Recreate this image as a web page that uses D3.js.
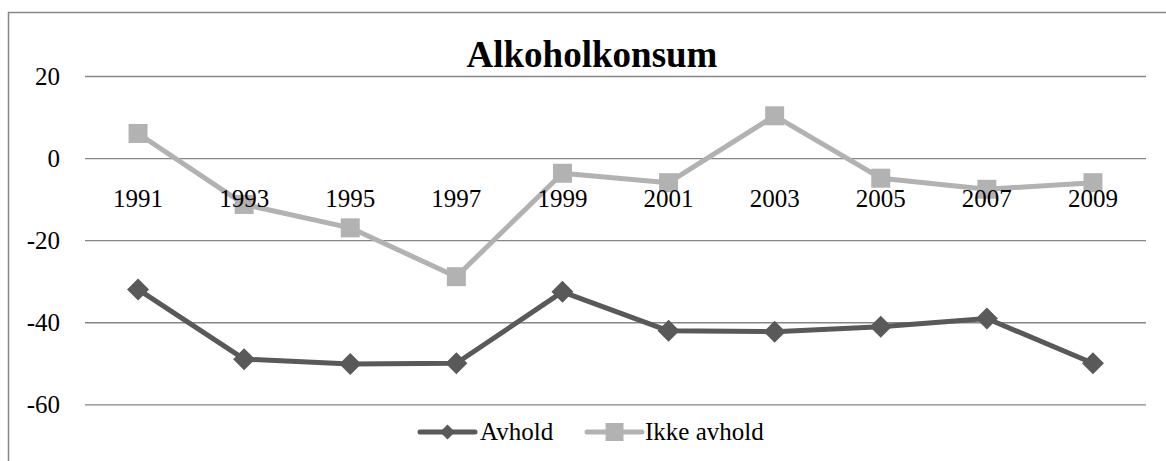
<!DOCTYPE html>
<html>
<head>
<meta charset="utf-8">
<script src="https://cdn.jsdelivr.net/npm/d3@7"></script>
<style>
  body { margin: 0; background: #fff; }
  svg { display: block; font-family: "Liberation Serif", "Times New Roman", serif; }
</style>
</head>
<body>
<svg width="1166" height="461"></svg>
<script>
// data
const years = ["1991", "1993", "1995", "1997", "1999", "2001", "2003", "2005", "2007", "2009"];
const avhold = [-32.0, -49.0, -50.2, -50.0, -32.6, -42.1, -42.3, -41.1, -39.1, -50.0];
const ikkeAvhold = [6.0, -11.3, -17.0, -28.9, -3.7, -6.0, 10.3, -4.9, -7.6, -6.0];
const yTicks = [20, 0, -20, -40, -60];

const series = [
  {name: "Avhold", values: avhold, color: "#595959", shape: "diamond"},
  {name: "Ikke avhold", values: ikkeAvhold, color: "#b2b2b2", shape: "square"}
];

var svg = d3.select("svg"),
    margin = {top: 76, right: 20, bottom: 57, left: 85},
    width = 1146 - margin.left,
    height = 404.3 - margin.top;

// chart border (runs off the right and bottom edge like the original)
svg.append("rect")
    .attr("x", 8.5).attr("y", 12.5)
    .attr("width", 1170).attr("height", 470)
    .attr("fill", "none")
    .attr("stroke", "#868686")
    .attr("stroke-width", 1.5);

var g = svg.append("g").attr("transform", "translate(" + margin.left + "," + margin.top + ")");

var x = d3.scaleBand().domain(years).range([0, width]);
var y = d3.scaleLinear().domain([-60, 20]).range([height, 0]);

// gridlines + y labels (plain hyphen minus like the original)
g.append("g")
    .call(d3.axisLeft(y).tickValues(yTicks).tickSize(-width).tickPadding(25).tickFormat(d => String(d)))
    .call(a => a.select(".domain").remove())
    .call(a => a.selectAll("line").attr("stroke", "#868686").attr("stroke-width", 1.3))
    .call(a => a.selectAll("text")
        .attr("fill", "#000")
        .style("font-size", "25px")
        .style("font-family", "'Liberation Serif', 'Times New Roman', serif"));

// title
svg.append("text")
    .attr("x", 592)
    .attr("y", 67)
    .attr("text-anchor", "middle")
    .style("font-size", "37px")
    .style("font-weight", "bold")
    .text("Alkoholkonsum");

var line = d3.line()
    .x((d, i) => x(years[i]) + x.bandwidth() / 2)
    .y(d => y(d));

function marker(sel, shape, size) {
  if (shape === "diamond") {
    sel.attr("d", d3.symbol(d3.symbolSquare, size * size / 2)())
       .attr("transform", function() { return d3.select(this).attr("transform") + " rotate(45)"; });
  } else {
    sel.attr("d", d3.symbol(d3.symbolSquare, size * size)());
  }
}

series.forEach(function(s) {
  g.append("path")
      .datum(s.values)
      .attr("fill", "none")
      .attr("stroke", s.color)
      .attr("stroke-width", 5)
      .attr("stroke-linejoin", "round")
      .attr("d", line);

  g.selectAll(".m-" + s.shape)
    .data(s.values)
    .enter().append("path")
      .attr("class", "m-" + s.shape)
      .attr("fill", s.color)
      .attr("transform", (d, i) => "translate(" + (x(years[i]) + x.bandwidth() / 2) + "," + y(d) + ")")
      .call(marker, s.shape, s.shape === "diamond" ? 22 : 19);
});

// category labels hang below the zero line, drawn over the lines
g.append("g")
    .attr("transform", "translate(0," + y(0) + ")")
    .call(d3.axisBottom(x).tickSize(0).tickPadding(31))
    .call(a => a.select(".domain").remove())
    .call(a => a.selectAll("text")
        .attr("fill", "#000")
        .style("font-size", "25px")
        .style("font-family", "'Liberation Serif', 'Times New Roman', serif"));

// legend
var legendItems = [
  {x0: 420, x1: 475, tx: 480},
  {x0: 587, x1: 642, tx: 645}
];
var legend = svg.append("g");
series.forEach(function(s, i) {
  var it = legendItems[i];
  var lg = legend.append("g");
  lg.append("line")
      .attr("x1", it.x0).attr("x2", it.x1)
      .attr("y1", 432).attr("y2", 432)
      .attr("stroke", s.color)
      .attr("stroke-width", 5)
      .attr("stroke-linecap", "round");
  lg.append("path")
      .attr("fill", s.color)
      .attr("transform", "translate(" + ((it.x0 + it.x1) / 2) + ",432)")
      .call(marker, s.shape, s.shape === "diamond" ? 15 : 18);
  lg.append("text")
      .attr("x", it.tx)
      .attr("y", 440)
      .style("font-size", "25px")
      .text(s.name);
});
</script>
</body>
</html>
